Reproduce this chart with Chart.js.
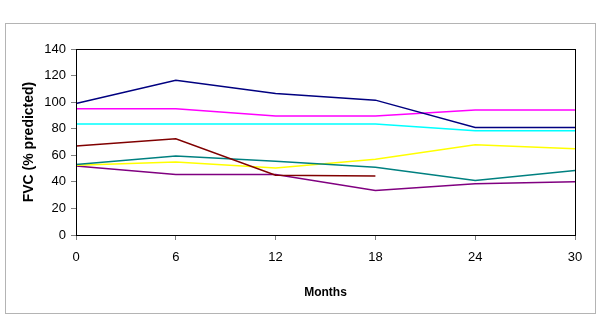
<!DOCTYPE html>
<html>
<head>
<meta charset="utf-8">
<script src="https://cdn.jsdelivr.net/npm/chart.js@4"></script>
<style>
  body { margin: 0; background: #fff; }
  #graph_div { width: 600px; height: 328px; }
</style>
</head>
<body>
<div id="graph_div"><canvas id="graph" width="600" height="328"></canvas></div>
<script>
// months on x axis
const months = ['0', '6', '12', '18', '24', '30']
// FVC % predicted, one array per patient
const patientNavy    = [99, 116.5, 106.5, 101.5, 81, 81]
const patientMagenta = [95, 95, 89.5, 89.5, 94, 94]
const patientCyan    = [83.5, 83.5, 83.5, 83.5, 78.5, 78.5]
const patientMaroon  = [67, 72.5, 45, 44.5]
const patientTeal    = [53, 59.5, 55.5, 51, 41, 48.5]
const patientYellow  = [52.5, 55, 50.5, 57, 68, 65]
const patientPurple  = [52, 45.5, 45.5, 33.5, 38.5, 40]

const lineColors = ['#000080', '#ff00ff', '#00ffff', '#800000', '#008080', '#ffff00', '#800080']
const series = [patientNavy, patientMagenta, patientCyan, patientMaroon, patientTeal, patientYellow, patientPurple]

const frame = {
    id: 'frame',
    beforeDraw(chart) {
        const ctx = chart.ctx
        ctx.save()
        ctx.fillStyle = '#fff'
        ctx.fillRect(0, 0, chart.width, chart.height)
        ctx.strokeStyle = '#b4b4b4'
        ctx.lineWidth = 1
        ctx.strokeRect(5.5, 23.5, 590, 290)
        ctx.restore()
    },
    afterDraw(chart) {
        const a = chart.chartArea
        const ctx = chart.ctx
        ctx.save()
        ctx.strokeStyle = '#000'
        ctx.lineWidth = 1
        ctx.strokeRect(Math.round(a.left) + 0.5, Math.round(a.top) + 0.5, Math.round(a.right - a.left), Math.round(a.bottom - a.top))
        ctx.restore()
    }
}

Chart.defaults.font.family = '"Liberation Sans", Arial, sans-serif'
Chart.defaults.color = '#000'

new Chart('graph', {
    type: 'line',
    data: {
        labels: months,
        datasets: series.map((vals, i) => ({
            data: vals,
            borderColor: lineColors[i],
            backgroundColor: lineColors[i],
            borderWidth: 1.5,
            pointRadius: 0,
            tension: 0,
            fill: false
        }))
    },
    options: {
        responsive: false,
        animation: false,
        layout: { padding: { top: 49, right: 25, left: 0, bottom: 0 } },
        plugins: {
            legend: { display: false },
            tooltip: { enabled: false }
        },
        scales: {
            x: {
                offset: false,
                grid: { drawOnChartArea: false, drawTicks: true, tickLength: 5, color: '#808080' },
                border: { color: '#000' },
                ticks: { font: { size: 13 }, padding: 10, maxRotation: 0 },
                title: { display: true, text: 'Months', font: { size: 12, weight: 'bold' }, padding: { top: 0, bottom: 28 } },
                afterFit: s => { s.height = 93 }
            },
            y: {
                min: 0,
                max: 140,
                grid: { drawOnChartArea: false, drawTicks: true, tickLength: 5, color: '#808080' },
                border: { color: '#000' },
                ticks: { stepSize: 20, font: { size: 13 }, padding: 5 },
                title: { display: true, text: 'FVC (% predicted)', font: { size: 14, weight: 'bold' }, padding: { top: 21, bottom: 0 } },
                afterFit: s => { s.width = 76 }
            }
        }
    },
    plugins: [frame]
})
</script>
</body>
</html>
